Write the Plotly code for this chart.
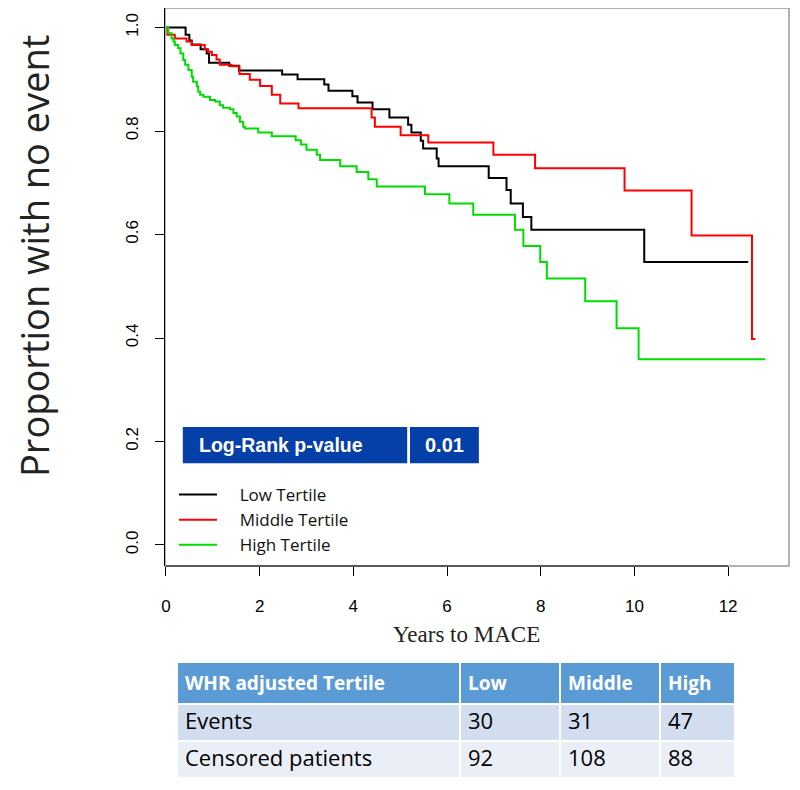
import plotly.graph_objects as go

# ---- data ----
low_t = [0, 0.42, 0.50, 0.55, 0.74, 0.87, 0.92, 1.35, 1.56, 2.48, 2.81, 3.38, 3.47, 3.98, 4.09, 4.41,
         4.77, 5.17, 5.24, 5.44, 5.49, 5.78, 5.82, 6.89, 7.27, 7.36, 7.62, 7.80, 10.21, 12.43]
low_s = [1.0, 0.986, 0.975, 0.967, 0.958, 0.950, 0.932, 0.926, 0.917, 0.909, 0.900, 0.890, 0.878, 0.867,
         0.855, 0.842, 0.826, 0.812, 0.797, 0.781, 0.766, 0.747, 0.732, 0.709, 0.686, 0.660, 0.634, 0.609,
         0.547, 0.547]

mid_t = [0, 0.03, 0.19, 0.44, 0.55, 0.83, 0.90, 0.98, 1.08, 1.15, 1.40, 1.57, 1.79, 2.01, 2.26, 2.44,
         2.83, 4.39, 4.46, 5.01, 5.60, 6.99, 7.88, 9.79, 11.22, 12.51, 12.58]
mid_s = [1.0, 0.986, 0.979, 0.973, 0.966, 0.958, 0.953, 0.947, 0.938, 0.928, 0.925, 0.910, 0.899, 0.887,
         0.870, 0.853, 0.844, 0.826, 0.808, 0.792, 0.778, 0.754, 0.728, 0.685, 0.598, 0.398, 0.398]

high_t = [0, 0.05, 0.12, 0.16, 0.19, 0.26, 0.31, 0.37, 0.41, 0.48, 0.55, 0.58, 0.66, 0.69, 0.73, 0.80,
          0.94, 1.05, 1.15, 1.22, 1.37, 1.44, 1.51, 1.58, 1.65, 1.69, 1.97, 2.26, 2.77, 2.88, 3.0, 3.22,
          3.29, 3.72, 4.07, 4.32, 4.50, 5.53, 6.05, 6.56, 7.45, 7.63, 7.99, 8.13, 8.95, 9.62, 10.09, 12.79]
high_s = [1.0, 0.989, 0.979, 0.973, 0.966, 0.960, 0.950, 0.937, 0.928, 0.918, 0.905, 0.895, 0.886, 0.876,
          0.870, 0.866, 0.860, 0.857, 0.850, 0.845, 0.842, 0.835, 0.828, 0.818, 0.808, 0.805, 0.797, 0.790,
          0.782, 0.774, 0.764, 0.754, 0.744, 0.732, 0.721, 0.707, 0.693, 0.678, 0.660, 0.638, 0.609, 0.578,
          0.547, 0.515, 0.471, 0.419, 0.359, 0.359]

series_names = ["Low Tertile", "Middle Tertile", "High Tertile"]
series_colors = ["#000000", "#ff0000", "#00dd00"]

x_ticks = [0, 2, 4, 6, 8, 10, 12]
y_ticks = [0.0, 0.2, 0.4, 0.6, 0.8, 1.0]
y_tick_labels = ["0.0", "0.2", "0.4", "0.6", "0.8", "1.0"]

pvalue_label = "Log-Rank p-value"
pvalue = "0.01"

table_header = ["WHR adjusted Tertile", "Low", "Middle", "High"]
table_rows = ["Events", "Censored patients"]
table_low = [30, 92]
table_mid = [31, 108]
table_high = [47, 88]

W, H = 800, 790
OFF = 8  # page body margin offset


def px(v):
    return min(max((v - OFF) / W, 0), 1)


def py(v):
    return min(max(1 - (v - OFF) / H, 0), 1)


fig = go.Figure()
for t, s, name, col in zip([low_t, mid_t, high_t], [low_s, mid_s, high_s], series_names, series_colors):
    fig.add_trace(go.Scatter(x=t, y=s, mode="lines", line=dict(color=col, width=2, shape="hv"),
                             name="\u00a0\u00a0\u00a0\u00a0" + name, xaxis="x", yaxis="y"))

fig.add_trace(go.Table(
    domain=dict(x=[px(177), px(735)], y=[py(779), py(662)]),
    columnwidth=[283, 100, 100, 75],
    header=dict(values=["<b>%s</b>" % h for h in table_header],
                fill_color="#5b9bd5", line=dict(color="white", width=2),
                font=dict(family="Open Sans", size=19, color="white"), align="left", height=41),
    cells=dict(values=[table_rows, table_low, table_mid, table_high],
               fill_color=[["#d2ddef", "#eaeff7"]] * 4, line=dict(color="white", width=2),
               font=dict(family="Open Sans", size=22, color="black"), align="left", height=37),
))

axis_font = dict(family="Liberation Sans", size=17, color="black")
fig.update_layout(
    width=W, height=H, margin=dict(l=0, r=0, t=0, b=0),
    paper_bgcolor="white", plot_bgcolor="white",
    xaxis=dict(domain=[px(165), px(789)], range=[-0.02, 13.3], showgrid=False, zeroline=False,
               showline=False, ticks="outside", ticklen=9, tickwidth=1, tickcolor="black",
               tickvals=x_ticks, ticktext=[str(v) for v in x_ticks], tickfont=axis_font,
               ticklabelstandoff=16, automargin=False),
    yaxis=dict(domain=[py(566), py(8)], range=[-0.0406, 1.0377], showgrid=False, zeroline=False,
               showline=True, linecolor="black", linewidth=1, ticks="outside", ticklen=9, tickwidth=1,
               tickcolor="black", tickvals=y_ticks, ticktext=y_tick_labels, tickangle=-90,
               tickfont=axis_font, ticklabelstandoff=10, automargin=False),
    legend=dict(x=px(174), y=py(477), xanchor="left", yanchor="top", bgcolor="rgba(0,0,0,0)",
                font=dict(family="Open Sans", size=17, color="#111"), itemwidth=38,
                tracegroupgap=0),
    showlegend=True,
)

# frame and bottom axis line
fig.add_shape(type="rect", xref="x domain", yref="y domain", x0=0, x1=1, y0=0, y1=1,
              line=dict(color="#999999", width=1.5), layer="below")
fig.add_shape(type="line", xref="x", yref="y domain", x0=x_ticks[0], x1=x_ticks[-1], y0=0, y1=0,
              line=dict(color="black", width=1.2))

# p-value boxes
fig.add_shape(type="rect", xref="x", yref="y", x0=0.36, x1=5.15, y0=0.158, y1=0.228,
              fillcolor="#0540a8", line=dict(width=0))
fig.add_shape(type="rect", xref="x", yref="y", x0=5.21, x1=6.68, y0=0.158, y1=0.228,
              fillcolor="#0540a8", line=dict(width=0))
fig.add_annotation(x=0.66, y=0.193, xref="x", yref="y", text="<b>%s</b>" % pvalue_label,
                   showarrow=False, xanchor="left", yanchor="middle",
                   font=dict(family="Liberation Sans", size=19.5, color="white"))
fig.add_annotation(x=5.945, y=0.193, xref="x", yref="y", text="<b>%s</b>" % pvalue,
                   showarrow=False, xanchor="center", yanchor="middle",
                   font=dict(family="Liberation Sans", size=20, color="white"))

# axis titles
fig.add_annotation(x=px(34), y=py(256), xref="paper", yref="paper", text="Proportion with no event",
                   textangle=-90, showarrow=False, xanchor="center", yanchor="middle",
                   font=dict(family="Open Sans", size=38, color="#222"))
fig.add_annotation(x=px(466), y=py(634), xref="paper", yref="paper", text="Years to MACE",
                   showarrow=False, xanchor="center", yanchor="middle",
                   font=dict(family="Liberation Serif", size=23, color="#222"))

fig.write_html("out.html")
